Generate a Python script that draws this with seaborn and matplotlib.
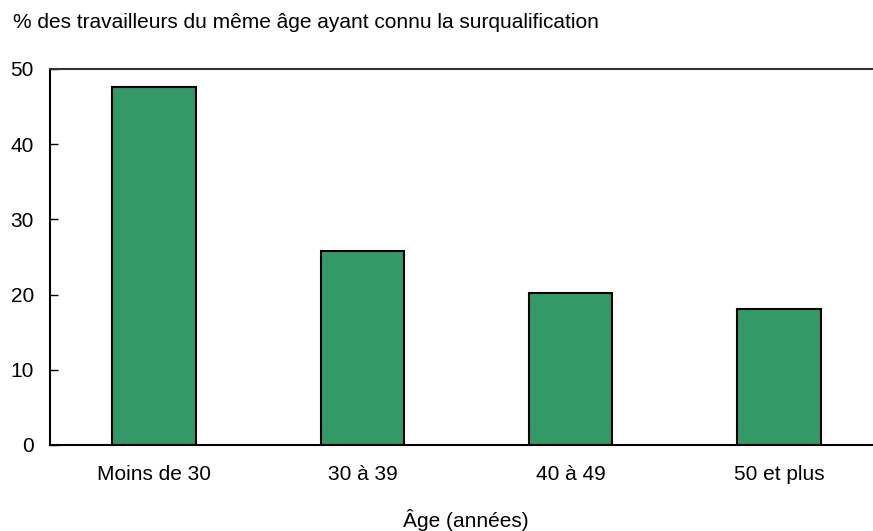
import matplotlib
matplotlib.use("Agg")
import matplotlib.pyplot as plt
import seaborn as sns
import pandas as pd

categories = ["Moins de 30", "30 à 39", "40 à 49", "50 et plus"]
values = [47.6, 25.8, 20.2, 18.1]
yticks = [0, 10, 20, 30, 40, 50]
title = "% des travailleurs du même âge ayant connu la surqualification"
xlabel = "Âge (années)"

sns.set_theme(style="white")
plt.rcParams['font.family'] = ['Liberation Sans', 'DejaVu Sans']
plt.rcParams['text.color'] = 'black'
plt.rcParams['axes.labelcolor'] = 'black'
plt.rcParams['xtick.color'] = 'black'
plt.rcParams['ytick.color'] = 'black'

W, H = 873, 531
fig = plt.figure(figsize=(W / 100, H / 100), dpi=100)
ax = fig.add_axes([50 / W, (H - 445) / H, 833 / W, 376 / H])

df = pd.DataFrame({"cat": categories, "val": values})
sns.barplot(data=df, x="cat", y="val", color="#339966", saturation=1,
            width=0.4, edgecolor="black", linewidth=1.5, ax=ax)

ax.set_xlim(-0.5, 3.5)
ax.set_ylim(0, 50)
ax.set_yticks(yticks)
ax.set_ylabel("")
ax.set_xlabel("")
ax.tick_params(axis="y", direction="in", length=6, width=1, color="black",
               labelsize=15, pad=11.5, left=True, labelcolor="black")
ax.tick_params(axis="x", length=0, labelsize=15, pad=14.5, labelcolor="black")
for s in ["left", "bottom"]:
    ax.spines[s].set_color("black")
    ax.spines[s].set_linewidth(1.5)
ax.spines["top"].set_color("#333333")
ax.spines["top"].set_linewidth(1.5)
ax.spines["right"].set_visible(False)

fig.text(13 / W, 1 - 28 / H, title, fontsize=15, va="baseline", ha="left",
         color="black")
fig.text(466 / W, 1 - 527 / H, xlabel, fontsize=15, va="baseline",
         ha="center", color="black")

fig.savefig("out.png", dpi=100)
